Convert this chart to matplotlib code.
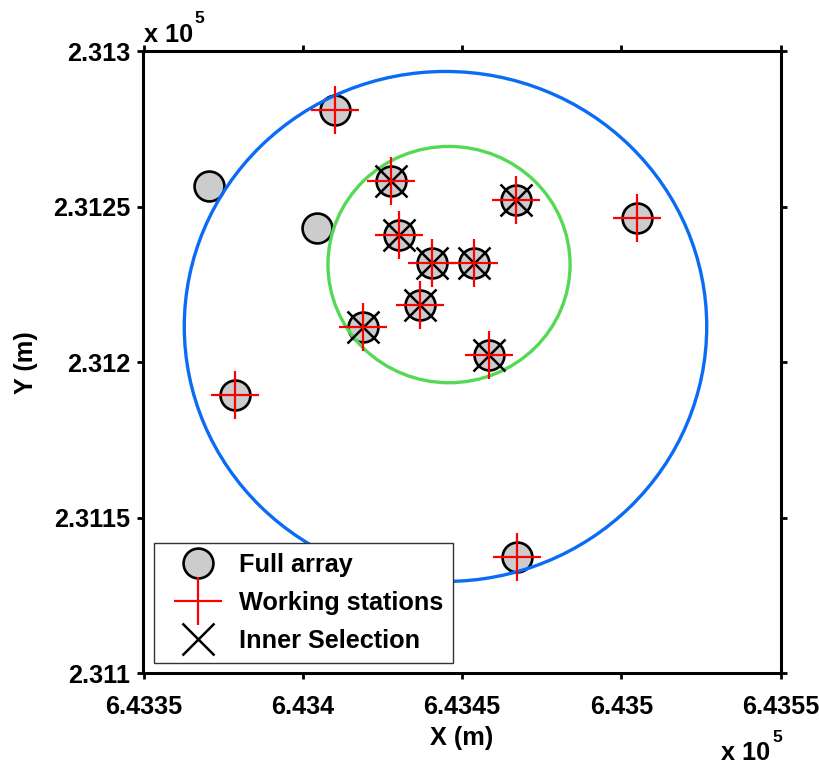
import matplotlib
matplotlib.use('Agg')
import matplotlib.pyplot as plt
from matplotlib.lines import Line2D
from matplotlib.patches import Circle

plt.rcParams['font.family'] = ['Liberation Sans', 'DejaVu Sans']
plt.rcParams['font.weight'] = 'bold'

# Station coordinates (m, UTM-like)
full_x = [643410.1, 643370.6, 643404.5, 643427.7, 643467.0, 643505.0, 643430.2,
          643440.6, 643453.8, 643436.8, 643418.9, 643458.5, 643378.7, 643467.3]
full_y = [231281.0, 231256.6, 231243.1, 231258.2, 231252.1, 231246.3, 231240.8,
          231231.8, 231231.8, 231218.3, 231211.3, 231202.3, 231189.4, 231137.3]

work_x = [643410.1, 643427.7, 643467.0, 643505.0, 643430.2, 643440.6,
          643453.8, 643436.8, 643418.9, 643458.5, 643378.7, 643467.3]
work_y = [231281.0, 231258.2, 231252.1, 231246.3, 231240.8, 231231.8,
          231231.8, 231218.3, 231211.3, 231202.3, 231189.4, 231137.3]

inner_x = [643427.7, 643467.0, 643430.2, 643440.6, 643453.8, 643436.8, 643418.9, 643458.5]
inner_y = [231258.2, 231252.1, 231240.8, 231231.8, 231231.8, 231218.3, 231211.3, 231202.3]

# selection rings: (centre x, centre y, radius)
outer_ring = (643444.8, 231211.5, 82.0)
inner_ring = (643445.9, 231231.4, 38.0)

x_ticks = [643350, 643400, 643450, 643500, 643550]
x_labels = ['6.4335', '6.434', '6.4345', '6.435', '6.4355']
y_ticks = [231100, 231150, 231200, 231250, 231300]
y_labels = ['2.311', '2.3115', '2.312', '2.3125', '2.313']

FS = 18.2
fig = plt.figure(figsize=(8.2, 7.65), dpi=100)
ax = fig.add_axes([0.175, 0.12, 0.777, 0.813])

ax.plot(full_x, full_y, 'o', ms=21.5, mfc='#cccccc', mec='black', mew=1.9,
        linestyle='none', zorder=3)
for (cx, cy, r), col in [(outer_ring, '#0a6cf5'), (inner_ring, '#55d955')]:
    ax.add_patch(Circle((cx, cy), r, fill=False, ec=col, lw=2.4, zorder=4))
ax.plot(inner_x, inner_y, 'x', ms=23, mec='black', mew=1.8, linestyle='none', zorder=5)
ax.plot(work_x, work_y, '+', ms=34, mec='red', mew=1.6, linestyle='none', zorder=6)

ax.set_xlim(643350, 643550)
ax.set_ylim(231100, 231300)
ax.set_xticks(x_ticks)
ax.set_xticklabels(x_labels)
ax.set_yticks(y_ticks)
ax.set_yticklabels(y_labels)
ax.tick_params(direction='out', length=4.5, width=2, labelsize=FS,
               top=True, right=True)
ax.tick_params(axis='x', pad=11)
ax.tick_params(axis='y', pad=5)
for s in ax.spines.values():
    s.set_linewidth(2.2)

ax.set_xlabel('X (m)', fontsize=FS, fontweight='bold', labelpad=5)
ax.set_ylabel('Y (m)', fontsize=FS, fontweight='bold', labelpad=11)

# exponent annotations
fig.text(144 / 820, 1 - 42 / 765, 'x 10', fontsize=FS, fontweight='bold', va='baseline')
fig.text(194 / 820, 1 - 23 / 765, '5', fontsize=12.5, fontweight='bold', va='baseline')
fig.text(721 / 820, 1 - 760 / 765, 'x 10', fontsize=FS, fontweight='bold', va='baseline')
fig.text(772 / 820, 1 - 742 / 765, '5', fontsize=12.5, fontweight='bold', va='baseline')

handles = [
    Line2D([], [], marker='o', ms=21.5, mfc='#cccccc', mec='black', mew=1.9, linestyle='none'),
    Line2D([], [], marker='+', ms=34, mec='red', mew=1.6, linestyle='none'),
    Line2D([], [], marker='x', ms=23, mec='black', mew=1.8, linestyle='none'),
]
leg = ax.legend(handles, ['Full array', 'Working stations', 'Inner Selection'],
                loc='lower left', bbox_to_anchor=(154 / 820, 1 - 663 / 765),
                bbox_transform=fig.transFigure, fontsize=FS, numpoints=1,
                handlelength=2.7, handletextpad=0.25, labelspacing=0.55,
                borderpad=0.4, borderaxespad=0, fancybox=False, framealpha=1)
leg.get_frame().set_edgecolor('#333333')
leg.get_frame().set_linewidth(1.0)
leg.set_zorder(10)

fig.savefig('out.png', dpi=100)
